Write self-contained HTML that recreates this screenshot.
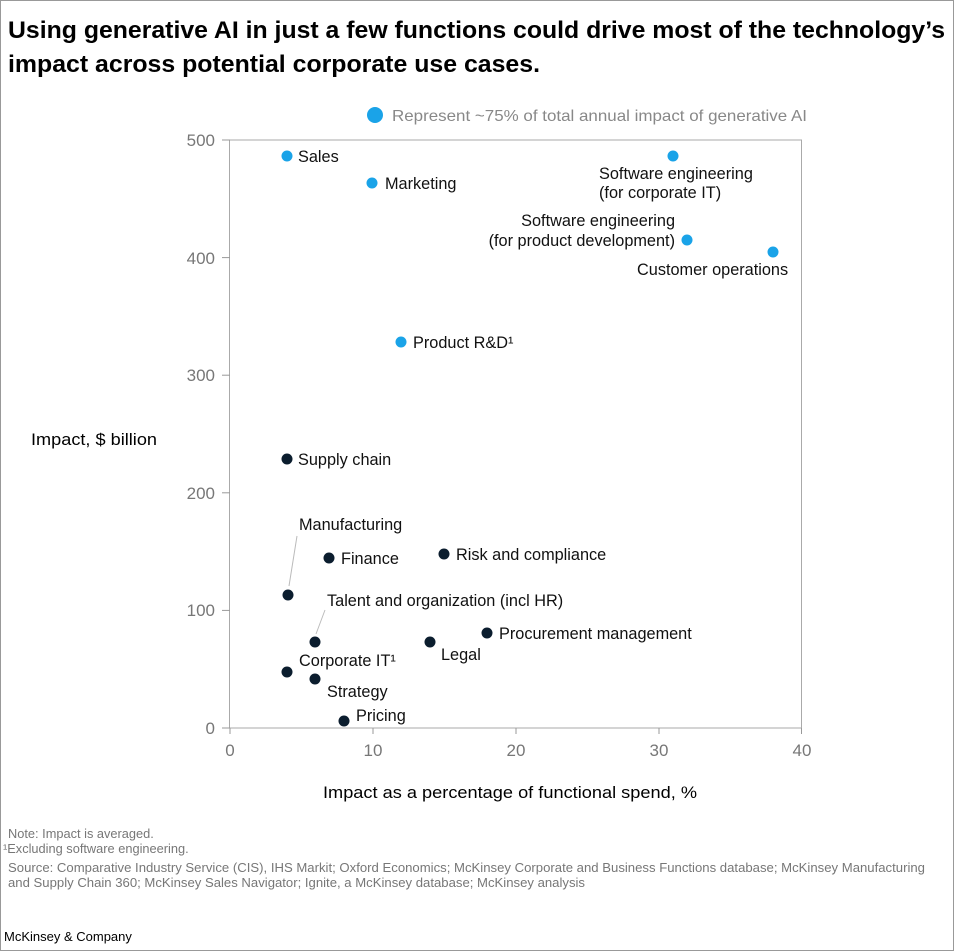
<!DOCTYPE html>
<html><head><meta charset="utf-8"><style>
html,body{margin:0;padding:0;background:#fff}
svg{display:block;font-family:"Liberation Sans",sans-serif}
</style></head><body>
<svg width="954" height="951" viewBox="0 0 954 951" xmlns="http://www.w3.org/2000/svg">
<rect x="0.5" y="0.5" width="953" height="950" fill="#fff" stroke="#999"/>
<text x="8" y="38" font-size="24.5" font-weight="bold" fill="#000" textLength="937" lengthAdjust="spacingAndGlyphs">Using generative AI in just a few functions could drive most of the technology’s</text>
<text x="8" y="72" font-size="24.5" font-weight="bold" fill="#000" textLength="532" lengthAdjust="spacingAndGlyphs">impact across potential corporate use cases.</text>
<circle cx="375" cy="115" r="8" fill="#1aa3e8"/>
<text x="392" y="121" font-size="16" fill="#888" textLength="415" lengthAdjust="spacingAndGlyphs">Represent ~75% of total annual impact of generative AI</text>
<rect x="229.5" y="140" width="572" height="588" fill="none" stroke="#aaa"/>
<g stroke="#999">
<line x1="222" y1="140" x2="230" y2="140"/><line x1="222" y1="257.6" x2="230" y2="257.6"/><line x1="222" y1="375.2" x2="230" y2="375.2"/><line x1="222" y1="492.8" x2="230" y2="492.8"/><line x1="222" y1="610.4" x2="230" y2="610.4"/><line x1="222" y1="728" x2="230" y2="728"/>
<line x1="230" y1="728" x2="230" y2="734"/><line x1="373" y1="728" x2="373" y2="734"/><line x1="516" y1="728" x2="516" y2="734"/><line x1="659" y1="728" x2="659" y2="734"/><line x1="801.5" y1="728" x2="801.5" y2="734"/>
</g>
<g font-size="17" fill="#777" text-anchor="end">
<text x="215" y="146">500</text><text x="215" y="264">400</text><text x="215" y="381">300</text><text x="215" y="499">200</text><text x="215" y="616">100</text><text x="215" y="734">0</text>
</g>
<g font-size="17" fill="#777" text-anchor="middle">
<text x="230" y="756">0</text><text x="373" y="756">10</text><text x="516" y="756">20</text><text x="659" y="756">30</text><text x="802" y="756">40</text>
</g>
<text x="31" y="445" font-size="17" fill="#000" textLength="126" lengthAdjust="spacingAndGlyphs">Impact, $ billion</text>
<text x="323" y="798" font-size="17" fill="#000" textLength="374" lengthAdjust="spacingAndGlyphs">Impact as a percentage of functional spend, %</text>
<g stroke="#bbb"><line x1="297" y1="536" x2="289" y2="586"/><line x1="325" y1="610" x2="316" y2="634"/></g>
<g fill="#1aa3e8">
<circle cx="287" cy="156" r="5.5"/><circle cx="372" cy="183" r="5.5"/><circle cx="673" cy="156" r="5.5"/><circle cx="687" cy="240" r="5.5"/><circle cx="773" cy="252" r="5.5"/><circle cx="401" cy="342" r="5.5"/>
</g>
<g fill="#0b1d2e">
<circle cx="287" cy="459" r="5.5"/><circle cx="288" cy="595" r="5.5"/><circle cx="329" cy="558" r="5.5"/><circle cx="444" cy="554" r="5.5"/><circle cx="315" cy="642" r="5.5"/><circle cx="487" cy="633" r="5.5"/><circle cx="430" cy="642" r="5.5"/><circle cx="287" cy="672" r="5.5"/><circle cx="315" cy="679" r="5.5"/><circle cx="344" cy="721" r="5.5"/>
</g>
<g font-size="16.3" fill="#111">
<text x="298" y="162">Sales</text>
<text x="385" y="189">Marketing</text>
<text x="599" y="179">Software engineering</text>
<text x="599" y="198">(for corporate IT)</text>
<text x="675" y="226" text-anchor="end">Software engineering</text>
<text x="675" y="246" text-anchor="end">(for product development)</text>
<text x="637" y="275">Customer operations</text>
<text x="413" y="348">Product R&amp;D¹</text>
<text x="298" y="465">Supply chain</text>
<text x="299" y="530">Manufacturing</text>
<text x="341" y="564">Finance</text>
<text x="456" y="560">Risk and compliance</text>
<text x="327" y="606">Talent and organization (incl HR)</text>
<text x="499" y="639">Procurement management</text>
<text x="441" y="660">Legal</text>
<text x="299" y="666">Corporate IT¹</text>
<text x="327" y="697">Strategy</text>
<text x="356" y="721">Pricing</text>
</g>
<g font-size="12.8" fill="#777">
<text x="8" y="838">Note: Impact is averaged.</text>
<text x="3" y="853">¹Excluding software engineering.</text>
<text x="8" y="872" textLength="917" lengthAdjust="spacingAndGlyphs">Source: Comparative Industry Service (CIS), IHS Markit; Oxford Economics; McKinsey Corporate and Business Functions database; McKinsey Manufacturing</text>
<text x="8" y="887" textLength="577" lengthAdjust="spacingAndGlyphs">and Supply Chain 360; McKinsey Sales Navigator; Ignite, a McKinsey database; McKinsey analysis</text>
</g>
<text x="4" y="941" font-size="13" fill="#000">McKinsey &amp; Company</text>
</svg>
</body></html>
